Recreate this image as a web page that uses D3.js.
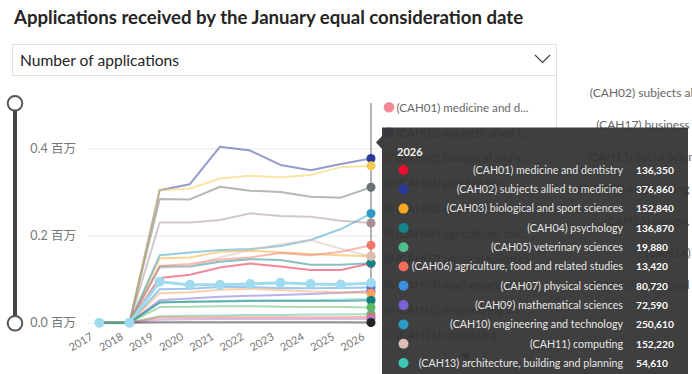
<!DOCTYPE html>
<html>
<head>
<meta charset="utf-8">
<script src="https://cdn.jsdelivr.net/npm/d3@7"></script>
<style>
  html, body { margin: 0; padding: 0; background: #fff; }
  svg { display: block; font-family: Lato, "Noto Sans CJK SC", sans-serif; }
</style>
</head>
<body>
<svg id="chart" width="692" height="374"></svg>
<script>
var years = ['2017', '2018', '2019', '2020', '2021', '2022', '2023', '2024', '2025', '2026'];

var subjects = [
  '(CAH01) medicine and dentistry',
  '(CAH02) subjects allied to medicine',
  '(CAH03) biological and sport sciences',
  '(CAH04) psychology',
  '(CAH05) veterinary sciences',
  '(CAH06) agriculture, food and related studies',
  '(CAH07) physical sciences',
  '(CAH09) mathematical sciences',
  '(CAH10) engineering and technology',
  '(CAH11) computing',
  '(CAH13) architecture, building and planning',
  '(CAH15) social sciences',
  '(CAH16) law',
  '(CAH17) business and management',
  '(CAH19) language and area studies',
  '(CAH20) historical, philosophical and religious studies',
  '(CAH22) education and teaching',
  '(CAH23) combined and general studies',
  '(CAH24) media, journalism and communications',
  '(CAH25) design, and creative and performing arts',
  '(CAH26) geography, earth and environmental studies'
];

var subjectColors = [
  '#e8112d', '#29399b', '#f7a823', '#12848a', '#4fbe88', '#f26b5b', '#3b8fdf',
  '#7b63d6', '#2b9cc4', '#dcbdb6', '#3cc8b4', '#667476', '#f0766a', '#f3cb4f',
  '#f6a25c', '#9fdaef', '#b27dc5', '#252423', '#167b7b', '#a68f91', '#5cb86a'
];

// applications per subject, one value per year (2017..2026)
var applications = [
  [0, 0, 103000, 110000, 127000, 136000, 129000, 121000, 121000, 136350],
  [0, 0, 304000, 318000, 404000, 395000, 362000, 350000, 364000, 376860],
  [0, 0, 148000, 150000, 163000, 165000, 162000, 158000, 155000, 152840],
  [0, 0, 129000, 129000, 140000, 146000, 144000, 133000, 133000, 136870],
  [0, 0, 15000, 16000, 17000, 18000, 18000, 19000, 19000, 19880],
  [0, 0, 12000, 12000, 13000, 13000, 13000, 13000, 13000, 13420],
  [0, 0, 77000, 78000, 82000, 82000, 80000, 79000, 80000, 80720],
  [0, 0, 52000, 56000, 60000, 62000, 64000, 66000, 69000, 72590],
  [0, 0, 155000, 161000, 167000, 169000, 176000, 190000, 215000, 250610],
  [0, 0, 125000, 130000, 150000, 167000, 180000, 190000, 170000, 152220],
  [0, 0, 46000, 48000, 50000, 51000, 52000, 52000, 53000, 54610],
  [0, 0, 284000, 283000, 312000, 303000, 300000, 289000, 287000, 311000],
  [0, 0, 130000, 135000, 145000, 150000, 160000, 155000, 163000, 178000],
  [0, 0, 304000, 308000, 331000, 337000, 334000, 339000, 357000, 360000],
  [0, 0, 68000, 70000, 76000, 78000, 75000, 72000, 70000, 68000],
  [0, 0, 94000, 87000, 87000, 89000, 92000, 89000, 88000, 91000],
  [0, 0, 7000, 8000, 9000, 9000, 9000, 9000, 9000, 9000],
  [0, 0, 1000, 1000, 1000, 1000, 1000, 1000, 1000, 800],
  [0, 0, 47000, 48000, 49000, 50000, 50000, 50000, 50000, 51000],
  [0, 0, 230000, 230000, 236000, 251000, 245000, 243000, 234000, 229000],
  [0, 0, 36000, 37000, 38000, 38000, 37000, 36000, 36000, 35000]
];

var highlighted = '(CAH20) historical, philosophical and religious studies';
var yTicks = [0, 200000, 400000];
var legendCount = 10;
var tooltipCount = 11;
var hoverYear = '2026';

// first lines of the wrapped labels in the ranking visual on the right
var rankLabels = [
  '(CAH02) subjects allied', '(CAH17) business and', '(CAH15) social sciences',
  '(CAH10) engineering and', '(CAH25) design, and', '(CAH16) law', '(CAH03) biological and'
];

var svg = d3.select('#chart');

function truncate(textSel, maxWidth) {
  textSel.each(function() {
    var node = this, full = node.textContent, n = full.length;
    if (node.getComputedTextLength() <= maxWidth) return;
    while (n > 0) {
      n--;
      node.textContent = full.slice(0, n).replace(/\s+$/, '') + '...';
      if (node.getComputedTextLength() <= maxWidth) break;
    }
  });
}

// header
svg.append('text')
  .attr('x', 14)
  .attr('y', 24)
  .attr('font-size', 18.6)
  .attr('font-weight', 700)
  .attr('fill', '#252423')
  .text('Applications received by the January equal consideration date');

svg.append('rect')
  .attr('x', 12.5).attr('y', 44.5)
  .attr('width', 544).attr('height', 31)
  .attr('fill', '#fff').attr('stroke', '#e3e1df');

svg.append('text')
  .attr('x', 20).attr('y', 65.5)
  .attr('font-size', 15.6)
  .attr('fill', '#252423')
  .text('Number of applications');

svg.append('path')
  .attr('d', 'M535,55 L542.5,62.5 L550,55')
  .attr('fill', 'none').attr('stroke', '#444').attr('stroke-width', 1.2);

svg.append('line')
  .attr('x1', 556.5).attr('x2', 556.5)
  .attr('y1', 75).attr('y2', 374)
  .attr('stroke', '#e3e1df');

// ranking labels of the neighbouring visual
var rankY = d3.scalePoint().domain(rankLabels).range([97, 289]);
svg.append('g')
  .selectAll('text')
  .data(rankLabels)
  .join('text')
  .attr('x', 712)
  .attr('y', function(d) { return rankY(d); })
  .attr('text-anchor', 'end')
  .attr('font-size', 12)
  .attr('fill', '#666')
  .text(function(d) { return d; });

// range slider
var slider = svg.append('g');
slider.append('rect')
  .attr('x', 13).attr('y', 103).attr('width', 4).attr('height', 220)
  .attr('fill', '#454545');
slider.selectAll('circle')
  .data([103.3, 323.3])
  .join('circle')
  .attr('cx', 15).attr('cy', function(d) { return d; }).attr('r', 7.3)
  .attr('fill', '#fff').attr('stroke', '#555').attr('stroke-width', 2);

// scales and axes
var x = d3.scalePoint().domain(years).range([99.3, 371]);
var y = d3.scaleLinear().domain([0, 400000]).range([322.8, 148.4]);

var yAxis = svg.append('g')
  .attr('transform', 'translate(88,0)')
  .call(d3.axisLeft(y)
    .tickValues(yTicks)
    .tickSize(-290)
    .tickPadding(12)
    .tickFormat(function(d) { return d3.format('.1f')(d / 1e6) + ' 百万'; }));
yAxis.select('.domain').remove();
yAxis.selectAll('line').attr('stroke', '#e8e8e8');
yAxis.selectAll('text')
  .attr('font-size', 12.5)
  .attr('fill', '#777')
  .attr('font-family', 'Lato, "Noto Sans CJK SC", sans-serif');

var xAxis = svg.append('g')
  .attr('transform', 'translate(0,322.8)')
  .call(d3.axisBottom(x).tickSize(0));
xAxis.select('.domain').remove();
xAxis.selectAll('text')
  .attr('x', 0).attr('y', 0).attr('dy', 0)
  .attr('text-anchor', 'end')
  .attr('transform', 'translate(-6,16) rotate(-30)')
  .attr('font-size', 11)
  .attr('font-family', 'Lato, sans-serif')
  .attr('fill', '#777');

// series
var series = subjects.map(function(name, i) {
  return {
    name: name,
    color: subjectColors[i],
    points: years.map(function(yr, j) { return {year: yr, value: applications[i][j]}; })
  };
});

var line = d3.line()
  .x(function(d) { return x(d.year); })
  .y(function(d) { return y(d.value); });

var plot = svg.append('g');

plot.selectAll('path.series')
  .data(series)
  .join('path')
  .attr('class', 'series')
  .attr('d', function(s) { return line(s.points); })
  .attr('fill', 'none')
  .attr('stroke', function(s) { return s.color; })
  .attr('stroke-width', function(s) { return s.name === highlighted ? 3 : 2; })
  .attr('stroke-opacity', function(s) { return s.name === highlighted ? 1 : 0.5; })
  .attr('stroke-linejoin', 'round');

// hover rule
plot.append('line')
  .attr('x1', x(hoverYear)).attr('x2', x(hoverYear))
  .attr('y1', 103).attr('y2', 323)
  .attr('stroke', '#9c9c9c').attr('stroke-width', 1.5);

var hl = series.filter(function(s) { return s.name === highlighted; })[0];
plot.selectAll('circle.hl')
  .data(hl.points)
  .join('circle')
  .attr('class', 'hl')
  .attr('cx', function(d) { return x(d.year); })
  .attr('cy', function(d) { return y(d.value); })
  .attr('r', 5)
  .attr('fill', hl.color);

// markers at the hovered year
var hoverIndex = years.indexOf(hoverYear);
plot.selectAll('circle.hover')
  .data(series)
  .join('circle')
  .attr('class', 'hover')
  .attr('cx', x(hoverYear))
  .attr('cy', function(s) { return y(s.points[hoverIndex].value); })
  .attr('r', 4.5)
  .attr('fill', function(s) { return s.color; });

// legend
var legend = svg.append('g')
  .selectAll('g')
  .data(series.slice(0, legendCount))
  .join('g')
  .attr('transform', function(d, i) { return 'translate(0,' + (107.3 + i * 25.3) + ')'; });
legend.append('circle')
  .attr('cx', 389).attr('r', 5.3)
  .attr('fill', function(s) { return s.color; })
  .attr('fill-opacity', 0.5);
legend.append('text')
  .attr('x', 396.5).attr('y', 4.2)
  .attr('font-size', 11.6)
  .attr('fill', '#666')
  .text(function(s) { return s.name; })
  .call(truncate, 134);

svg.append('path')
  .attr('d', 'M461,353.5 L471,353.5 L466,360 Z')
  .attr('fill', '#555');

// tooltip
var tip = svg.append('g');
tip.append('path')
  .attr('d', 'M382,127.5 H688 V380 H382 V149 L376,142.5 L382,136 Z')
  .attr('fill', '#303030')
  .attr('fill-opacity', 0.93);

tip.append('text')
  .attr('x', 397).attr('y', 156)
  .attr('font-size', 11)
  .attr('font-weight', 700)
  .attr('fill', '#f2f2f2')
  .text(hoverYear);

var fmt = d3.format(',');
var rows = tip.selectAll('g.row')
  .data(series.slice(0, tooltipCount))
  .join('g')
  .attr('class', 'row')
  .attr('transform', function(d, i) { return 'translate(0,' + (170 + i * 19.3) + ')'; });
rows.append('circle')
  .attr('cx', 403.5).attr('r', 5)
  .attr('fill', function(s) { return s.color; });
rows.append('text')
  .attr('x', 623).attr('y', 3.8)
  .attr('text-anchor', 'end')
  .attr('font-size', 10.7)
  .attr('fill', '#e6e6e6')
  .text(function(s) { return s.name; });
rows.append('text')
  .attr('x', 636).attr('y', 3.8)
  .attr('font-size', 10.2)
  .attr('font-weight', 700)
  .attr('fill', '#fff')
  .text(function(s) { return fmt(s.points[hoverIndex].value); });
</script>
</body>
</html>
